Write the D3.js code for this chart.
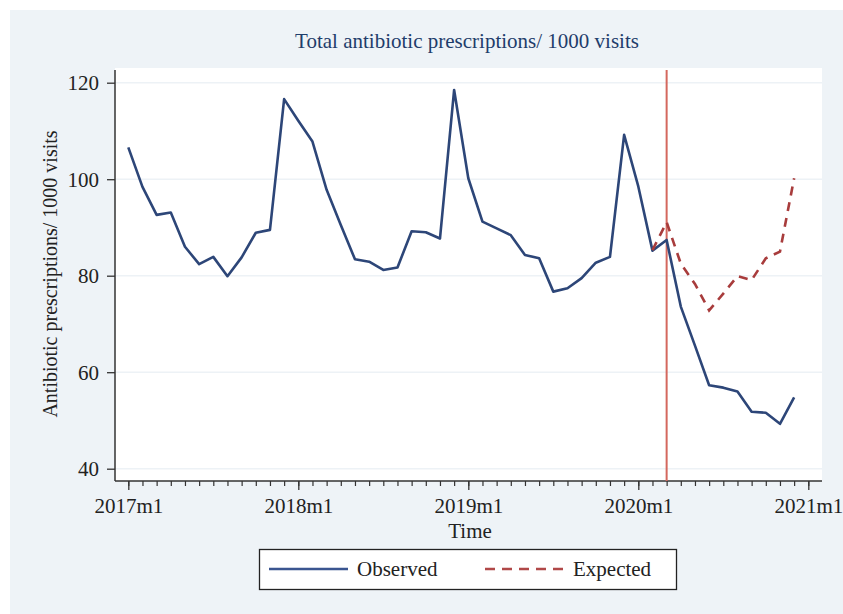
<!DOCTYPE html>
<html><head><meta charset="utf-8">
<script src="https://cdn.jsdelivr.net/npm/d3@7"></script>
<style>html,body{margin:0;padding:0;background:#fff;}svg{display:block;}</style>
</head><body>
<script>
const tickLabels = ["2017m1","2018m1","2019m1","2020m1","2021m1"];
const tickMonths = [0,12,24,36,48];
const yTicks = [40,60,80,100,120];
const observed = [106.6, 98.4, 92.6, 93.1, 86.0, 82.4, 83.9, 79.9, 83.8, 88.9, 89.5, 116.6,
                  112.1, 107.8, 97.8, 90.5, 83.4, 82.9, 81.2, 81.7, 89.2, 89.0, 87.7, 118.5,
                  100.2, 91.2, 89.8, 88.4, 84.3, 83.6, 76.7, 77.4, 79.5, 82.7, 83.9, 109.2,
                  98.5, 85.2, 87.4, 73.6, 65.5, 57.3, 56.8, 56.0, 51.8, 51.6, 49.3, 54.8];
const expectedStart = 37;
const expected = [85.3, 91.1, 82.5, 78.3, 72.8, 76.3, 79.9, 79.1, 83.6, 85.0, 100.2];
const interventionMonth = 38;

const W = 843, H = 614;
const svg = d3.select("body").append("svg").attr("width", W).attr("height", H);
const font = "'Liberation Serif', 'Times New Roman', serif";
const fs = 21;

svg.append("rect").attr("x",10).attr("y",10).attr("width",W-10).attr("height",H-10).attr("fill","#eef3f7");
const plot = {l:115, r:822, t:68, b:481};
svg.append("rect").attr("x",plot.l).attr("y",plot.t).attr("width",plot.r-plot.l).attr("height",plot.b-plot.t).attr("fill","#fff");

const x = d3.scaleLinear().domain([0,48]).range([128.3, 808.3]);
const y = d3.scaleLinear().domain([40,120]).range([468.7, 82.7]);

// grid
svg.append("g").selectAll("line").data(yTicks).join("line")
  .attr("x1",plot.l).attr("x2",plot.r).attr("y1",d=>y(d)).attr("y2",d=>y(d))
  .attr("stroke","#edf2f6").attr("stroke-width",1.5);

// title
svg.append("text").attr("x",467).attr("y",48).attr("text-anchor","middle")
  .attr("font-family",font).attr("font-size",fs).attr("fill","#1f3d6b")
  .text("Total antibiotic prescriptions/ 1000 visits");

// y axis
const yAxis = d3.axisLeft(y).tickValues(yTicks).tickSize(8).tickPadding(8);
const gy = svg.append("g").attr("transform",`translate(${plot.l},0)`).call(yAxis);
gy.select(".domain").attr("d",`M-0,70V${plot.b}`).attr("stroke","#333").attr("stroke-width",1.5);
gy.selectAll(".tick line").attr("stroke","#333").attr("stroke-width",1.3);
gy.selectAll("text").attr("font-family",font).attr("font-size",fs).attr("fill","#222").attr("dy","0.34em");

svg.append("text").attr("transform","translate(57,274) rotate(-90)").attr("text-anchor","middle")
  .attr("font-family",font).attr("font-size",20).attr("fill","#222")
  .text("Antibiotic prescriptions/ 1000 visits");

// x axis minor ticks
const gxMinor = svg.append("g").attr("transform",`translate(0,${plot.b})`)
  .call(d3.axisBottom(x).tickValues(d3.range(0,49)).tickSize(5).tickFormat(""));
gxMinor.select(".domain").remove();
gxMinor.selectAll(".tick line").attr("stroke","#333").attr("stroke-width",1.2);
const gx = svg.append("g").attr("transform",`translate(0,${plot.b})`)
  .call(d3.axisBottom(x).tickValues(tickMonths).tickSize(9).tickPadding(8).tickFormat((d,i)=>tickLabels[i]));
gx.select(".domain").attr("d",`M${plot.l},0H${plot.r}`).attr("stroke","#333").attr("stroke-width",1.5);
gx.selectAll(".tick line").attr("stroke","#333").attr("stroke-width",1.3);
gx.selectAll("text").attr("font-family",font).attr("font-size",fs).attr("fill","#222");

svg.append("text").attr("x",470).attr("y",538).attr("text-anchor","middle")
  .attr("font-family",font).attr("font-size",fs).attr("fill","#222").text("Time");

// intervention line
svg.append("line").attr("x1",x(interventionMonth)).attr("x2",x(interventionMonth))
  .attr("y1",70).attr("y2",plot.b).attr("stroke","#d4685e").attr("stroke-width",2);

const line = d3.line().x(d=>x(d[0])).y(d=>y(d[1]));
svg.append("path").datum(observed.map((v,i)=>[i,v])).attr("d",line)
  .attr("fill","none").attr("stroke","#2d4678").attr("stroke-width",2.6).attr("stroke-linejoin","round");
svg.append("path").datum(expected.map((v,i)=>[i+expectedStart,v])).attr("d",line)
  .attr("fill","none").attr("stroke","#a83c3c").attr("stroke-width",2.6).attr("stroke-dasharray","9,7");

// legend
const lg = svg.append("g");
lg.append("rect").attr("x",259.5).attr("y",549.5).attr("width",417).attr("height",40)
  .attr("fill","#fff").attr("stroke","#222").attr("stroke-width",1.3);
lg.append("line").attr("x1",269).attr("x2",348).attr("y1",569).attr("y2",569).attr("stroke","#3a5590").attr("stroke-width",2.4);
lg.append("text").attr("x",357).attr("y",576).attr("font-family",font).attr("font-size",fs).attr("fill","#222").text("Observed");
lg.append("line").attr("x1",485).attr("x2",563).attr("y1",569).attr("y2",569).attr("stroke","#b04848").attr("stroke-width",2.4).attr("stroke-dasharray","10,7");
lg.append("text").attr("x",573).attr("y",576).attr("font-family",font).attr("font-size",fs).attr("fill","#222").text("Expected");
</script>
</body></html>
